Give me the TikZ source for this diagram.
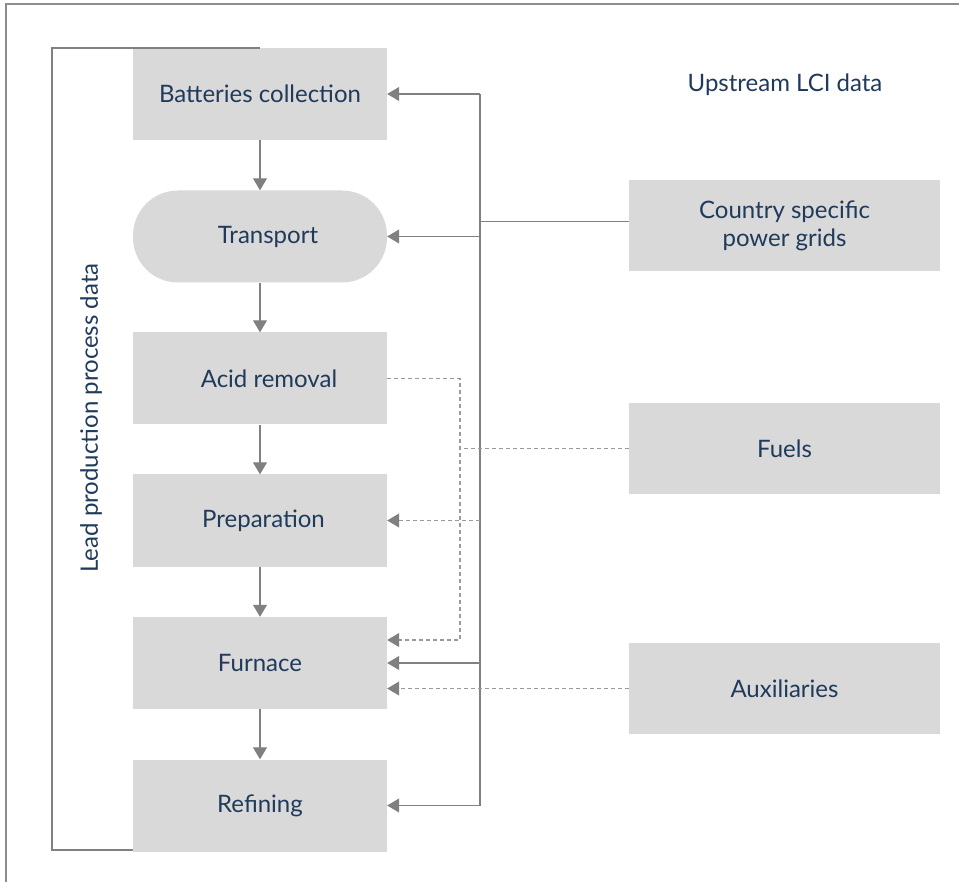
\documentclass[tikz,border=0pt]{standalone}
\usepackage{fontspec}
\setmainfont{Lato}
\usetikzlibrary{arrows.meta,calc}
\definecolor{boxfill}{HTML}{D9D9D9}
\definecolor{txt}{HTML}{1F3A5A}
\definecolor{ln}{HTML}{808080}
\definecolor{dln}{HTML}{9A9A9A}
\begin{document}
\begin{tikzpicture}[x=1pt,y=-1pt,
  box/.style={fill=boxfill,text=txt,minimum width=254pt,minimum height=92pt,inner sep=0pt,align=center,font=\fontsize{24}{28}\selectfont},
  rbox/.style={fill=boxfill,text=txt,minimum width=311pt,minimum height=91pt,inner sep=0pt,align=center,font=\fontsize{24}{28}\selectfont},
  lbl/.style={text=txt,font=\fontsize{24}{28}\selectfont},
  conn/.style={draw=ln,line width=1.2pt},
  arr/.style={conn,-{Triangle[length=12pt,width=14pt]}},
  dconn/.style={draw=dln,line width=1.2pt,dash pattern=on 4pt off 3pt},
  darr/.style={dconn,-{Triangle[length=12pt,width=14pt,color=ln,fill=ln]}},
  bracket/.style={draw=ln,line width=2pt},
  frame/.style={draw=ln!90,line width=1.2pt}]
\useasboundingbox (0,0) rectangle (959,882);
\draw[frame] (6,882) -- (6,4) -- (959,4);
\coordinate (brk) at (52,0);
\coordinate (bus) at (480,0);
\coordinate (dbus) at (460,0);
% left process boxes
\node[box] (bat) at (260,94) {Batteries collection};
\node[box,rounded corners=45pt] (trans) at (260,236.5) {\hspace*{16pt}Transport};
\node[box] (acid) at (260,378.5) {\hspace*{18pt}Acid removal};
\node[box] (prep) at (260,520.5) {\hspace*{7pt}Preparation};
\node[box] (furn) at (260,663) {Furnace};
\node[box] (ref) at (260,805.5) {Refining};
% right boxes
\node[rbox] (grid) at (784.5,225.5) {Country specific\\power grids};
\node[rbox] (fuels) at (784.5,448.5) {Fuels};
\node[rbox] (aux) at (784.5,688.5) {Auxiliaries};
\node[lbl] (up) at (785,85) {Upstream LCI data};
\node[lbl,rotate=90] (lead) at (91,418) {Lead production process data};
% bracket
\draw[bracket] (bat.north) -- (bat.north -| brk) -- ($(ref.south -| brk)+(0,-2)$) -- ($(ref.south west)+(0,-2)$);
% process arrows
\draw[arr] (bat) -- (trans);
\draw[arr] (trans) -- (acid);
\draw[arr] (acid) -- (prep);
\draw[arr] (prep) -- (furn);
\draw[arr] (furn) -- (ref);
% power grid bus
\coordinate (gj) at ($(grid.west)+(0,-4)$);
\draw[conn] (bat.east -| bus) -- (ref.east -| bus);
\draw[conn] (gj) -- (gj -| bus);
\draw[arr] (bat.east -| bus) -- (bat.east);
\draw[arr] (trans.east -| bus) -- (trans.east);
\draw[arr] (furn.east -| bus) -- (furn.east);
\draw[arr] (ref.east -| bus) -- (ref.east);
% fuels (dashed)
\coordinate (fu) at ($(furn.east)+(0,-23)$);
\draw[darr] (acid.east) -| (fu -| dbus) -- (fu);
\draw[dconn] (fuels.west) -- (fuels.west -| dbus);
\draw[darr] (prep.east -| bus) -- (prep.east);
% auxiliaries
\draw[darr] (aux.west) -- (aux.west -| furn.east);
\end{tikzpicture}
\end{document}
